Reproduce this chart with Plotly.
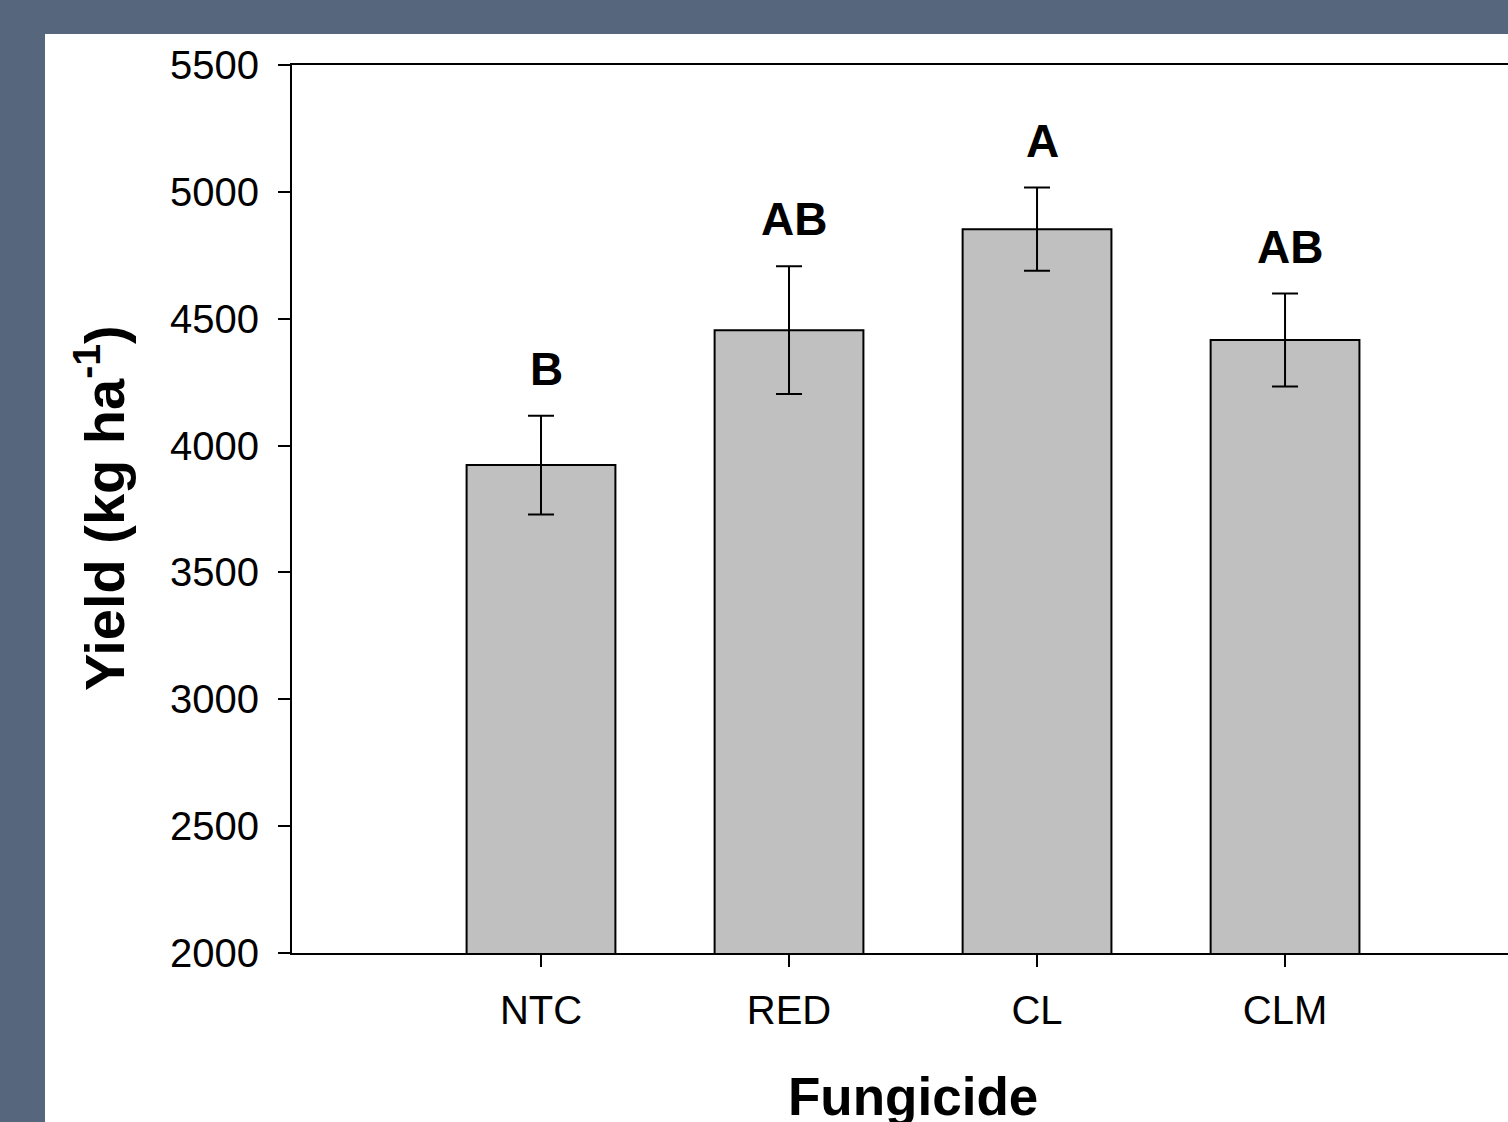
import plotly.graph_objects as go

categories = ["NTC", "RED", "CL", "CLM"]
yield_mean = [3923, 4455, 4853, 4416]
yield_err = [195, 252, 164, 183]
letters = ["B", "AB", "A", "AB"]
y_ticks = [2000, 2500, 3000, 3500, 4000, 4500, 5000, 5500]

W, H = 1508, 1122
L, R, T, B = 292, 0, 65, 169
pw, ph = W - L - R, H - T - B

def px(x):
    return (x - L) / pw

def py(y):
    return (H - B - y) / ph

FONT = "Arial, 'Liberation Sans', sans-serif"

fig = go.Figure()
fig.add_trace(go.Bar(
    x=list(range(len(categories))), y=yield_mean,
    width=0.6,
    marker=dict(color="#C0C0C0", line=dict(color="black", width=2)),
    error_y=dict(type="data", array=yield_err, visible=True,
                 color="black", thickness=2, width=13),
    showlegend=False,
    hoverinfo="skip",
))

for i, (m, e, t) in enumerate(zip(yield_mean, yield_err, letters)):
    fig.add_annotation(x=i, y=m + e, text=f"<b>{t}</b>", showarrow=False,
                       xref="x", yref="y", yanchor="bottom", yshift=19, xshift=5,
                       font=dict(family=FONT, size=46, color="black"))

# axis titles
fig.add_annotation(x=px(913), y=py(1096), xref="paper", yref="paper",
                   text="<b>Fungicide</b>", showarrow=False,
                   xanchor="center", yanchor="middle",
                   font=dict(family=FONT, size=53, color="black"))
fig.add_annotation(x=px(101), y=py(508), xref="paper", yref="paper",
                   text="<b>Yield (kg ha<sup>-1</sup>)</b>", showarrow=False,
                   textangle=-90, xanchor="center", yanchor="middle",
                   font=dict(family=FONT, size=56, color="black"))

# slate frame background with white card
fig.add_shape(type="rect", xref="paper", yref="paper",
              x0=px(45), x1=px(W + 20), y0=py(H + 20), y1=py(34),
              fillcolor="white", line=dict(width=0), layer="below")

fig.update_layout(
    width=W, height=H,
    margin=dict(l=L, r=R, t=T, b=B, pad=0),
    paper_bgcolor="#56677D",
    plot_bgcolor="white",
    font=dict(family=FONT, color="black"),
    bargap=0.4,
)
fig.update_xaxes(
    range=[-1.004, 3.899],
    tickmode="array", tickvals=list(range(len(categories))), ticktext=categories,
    ticks="outside", ticklen=12, tickwidth=2, tickcolor="black",
    showline=True, linewidth=2, linecolor="black", mirror=True,
    showgrid=False, zeroline=False, ticklabelstandoff=9,
    tickfont=dict(family=FONT, size=40, color="black"),
)
fig.update_yaxes(
    range=[2000, 5500],
    tickmode="array", tickvals=y_ticks,
    ticks="outside", ticklen=12, tickwidth=2, tickcolor="black",
    showline=True, linewidth=2, linecolor="black",
    showgrid=False, zeroline=False, ticklabelstandoff=11,
    tickfont=dict(family=FONT, size=40, color="black"),
)

fig.write_html(
    "out.html",
    config={"displayModeBar": False},
    post_script="document.body.style.margin='0';document.body.style.overflow='hidden';document.body.style.background='#56677D';",
)
